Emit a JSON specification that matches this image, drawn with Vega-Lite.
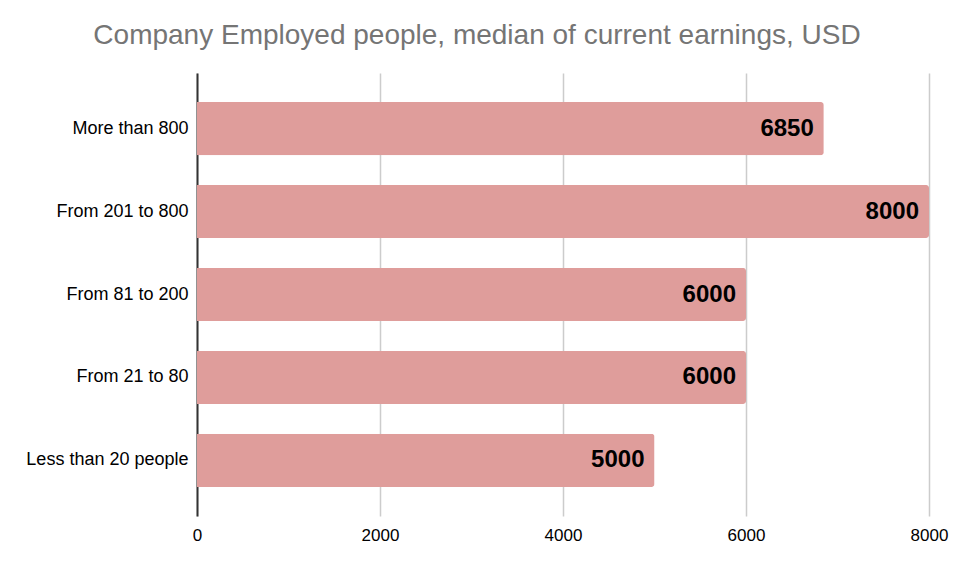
{
  "$schema": "https://vega.github.io/schema/vega-lite/v6.json",
  "width": 732,
  "height": 443,
  "autosize": {"type": "none"},
  "padding": {"left": 197, "top": 73, "right": 27, "bottom": 54},
  "background": "white",
  "title": {
    "text": "Company Employed people, median of current earnings, USD",
    "font": "Liberation Sans",
    "fontSize": 28,
    "fontWeight": "normal",
    "color": "#757575",
    "anchor": "middle",
    "dx": -86,
    "dy": 25,
    "baseline": "alphabetic",
    "offset": 26
  },
  "data": {
    "values": [
      {"group": "More than 800", "earnings": 6850},
      {"group": "From 201 to 800", "earnings": 8000},
      {"group": "From 81 to 200", "earnings": 6000},
      {"group": "From 21 to 80", "earnings": 6000},
      {"group": "Less than 20 people", "earnings": 5000}
    ]
  },
  "config": {
    "view": {"stroke": null},
    "font": "Liberation Sans"
  },
  "encoding": {
    "y": {
      "field": "group",
      "type": "nominal",
      "sort": null,
      "title": null,
      "scale": {"paddingInner": 0.36, "paddingOuter": 0.35},
      "axis": {
        "labelFont": "Liberation Sans",
        "labelFontSize": 18,
        "labelColor": "#000000",
        "labelPadding": 9,
        "ticks": false,
        "domainColor": "#333333",
        "domainWidth": 2
      }
    },
    "x": {
      "field": "earnings",
      "type": "quantitative",
      "title": null,
      "scale": {"domain": [0, 8000], "nice": false},
      "axis": {
        "values": [0, 2000, 4000, 6000, 8000],
        "format": "d",
        "labelFont": "Liberation Sans",
        "labelFontSize": 17,
        "labelColor": "#000000",
        "labelPadding": 11,
        "ticks": false,
        "domain": false,
        "gridColor": "#cccccc",
        "gridWidth": 1.5,
        "labelFlush": false
      }
    }
  },
  "layer": [
    {
      "mark": {"type": "bar", "color": "#df9d9b", "cornerRadiusEnd": 3}
    },
    {
      "mark": {
        "type": "text",
        "align": "right",
        "baseline": "middle",
        "dx": -10,
        "font": "Liberation Sans",
        "fontSize": 24,
        "fontWeight": "bold",
        "color": "#000000"
      },
      "encoding": {"text": {"field": "earnings", "type": "quantitative", "format": "d"}}
    }
  ]
}
